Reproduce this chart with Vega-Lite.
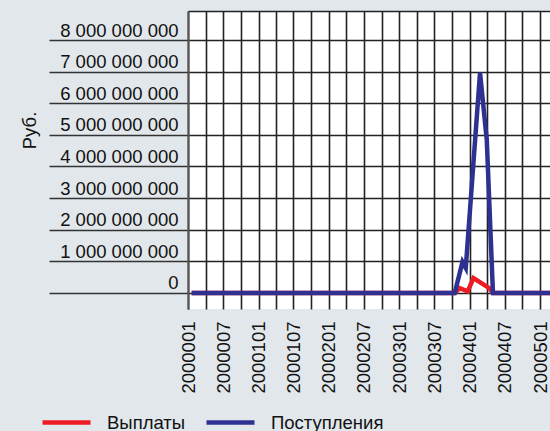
{
  "$schema": "https://vega.github.io/schema/vega-lite/v6.json",
  "autosize": {"type": "none"},
  "padding": {"left": 188, "top": 11, "right": 0, "bottom": 122},
  "width": 362,
  "height": 298,
  "background": "#e1e7eb",
  "view": {"fill": "white", "stroke": null},
  "config": {"font": "Liberation Sans"},
  "data": {
    "values": [
      {"date": "2000-01-20", "series": "Выплаты", "value": 0},
      {"date": "2003-10-16", "series": "Выплаты", "value": 0},
      {"date": "2003-11-11", "series": "Выплаты", "value": 150000000},
      {"date": "2003-12-22", "series": "Выплаты", "value": 50000000},
      {"date": "2004-01-21", "series": "Выплаты", "value": 470000000},
      {"date": "2004-04-12", "series": "Выплаты", "value": 150000000},
      {"date": "2004-05-01", "series": "Выплаты", "value": 0},
      {"date": "2005-02-21", "series": "Выплаты", "value": 0},
      {"date": "2000-01-20", "series": "Поступления", "value": 0},
      {"date": "2003-10-16", "series": "Поступления", "value": 0},
      {"date": "2003-11-25", "series": "Поступления", "value": 980000000},
      {"date": "2003-12-12", "series": "Поступления", "value": 790000000},
      {"date": "2004-02-24", "series": "Поступления", "value": 6970000000},
      {"date": "2004-03-30", "series": "Поступления", "value": 4840000000},
      {"date": "2004-05-01", "series": "Поступления", "value": 0},
      {"date": "2005-02-21", "series": "Поступления", "value": 0}
    ]
  },
  "mark": {"type": "line", "strokeWidth": 4.5, "clip": true},
  "encoding": {
    "x": {
      "field": "date",
      "type": "temporal",
      "scale": {"type": "utc", "domain": ["2000-01-01", "2005-02-21"], "nice": false},
      "axis": {
        "title": null,
        "tickCount": {"interval": "month", "step": 3},
        "grid": true,
        "gridColor": "#222",
        "gridWidth": 1.6,
        "gridOpacity": 1,
        "ticks": false,
        "domain": false,
        "labelAngle": -90,
        "labelAlign": "right",
        "labelBaseline": "middle",
        "labelPadding": 12,
        "labelOverlap": false,
        "labelFlush": false,
        "labelFontSize": 18.5,
        "labelColor": "#111",
        "labelExpr": "(utcmonth(datum.value) == 0 || utcmonth(datum.value) == 6) ? '200' + utcFormat(datum.value, '%y%m') : ''"
      }
    },
    "y": {
      "field": "value",
      "type": "quantitative",
      "scale": {"domain": [-510000000, 8920000000], "nice": false, "zero": false},
      "axis": {
        "title": "Руб.",
        "values": [0, 1000000000, 2000000000, 3000000000, 4000000000, 5000000000, 6000000000, 7000000000, 8000000000, 8920000000],
        "format": ",d",
        "labelExpr": "datum.value > 8500000000 ? '' : replace(datum.label, regexp(',', 'g'), ' ')",
        "grid": true,
        "gridColor": "#222",
        "gridWidth": 1.6,
        "gridOpacity": 1,
        "ticks": true,
        "tickSize": 139,
        "tickColor": "#333",
        "tickWidth": 1.6,
        "tickOpacity": {"condition": {"test": "datum.value > 8500000000", "value": 0}, "value": 1},
        "domain": true,
        "domainColor": "#555",
        "domainWidth": 2,
        "labelPadding": -129,
        "labelAlign": "right",
        "labelBaseline": "alphabetic",
        "labelOffset": -4,
        "labelFontSize": 18.5,
        "labelColor": "#111",
        "labelOverlap": false,
        "labelFlush": false,
        "titleAngle": -90,
        "titleX": -159,
        "titleY": 119,
        "titleAlign": "center",
        "titleBaseline": "middle",
        "titleFontWeight": "normal",
        "titleFontSize": 18.5,
        "titleColor": "#111"
      }
    },
    "color": {
      "field": "series",
      "type": "nominal",
      "scale": {"domain": ["Выплаты", "Поступления"], "range": ["#ed1c24", "#2e3192"]},
      "legend": {
        "title": null,
        "orient": "none",
        "direction": "horizontal",
        "legendX": -148,
        "legendY": 385,
        "padding": 0,
        "symbolType": "stroke",
        "symbolSize": 2304,
        "symbolStrokeWidth": 4.5,
        "labelFontSize": 18.5,
        "labelColor": "#111",
        "labelOffset": 14,
        "columnPadding": 11
      }
    }
  }
}
